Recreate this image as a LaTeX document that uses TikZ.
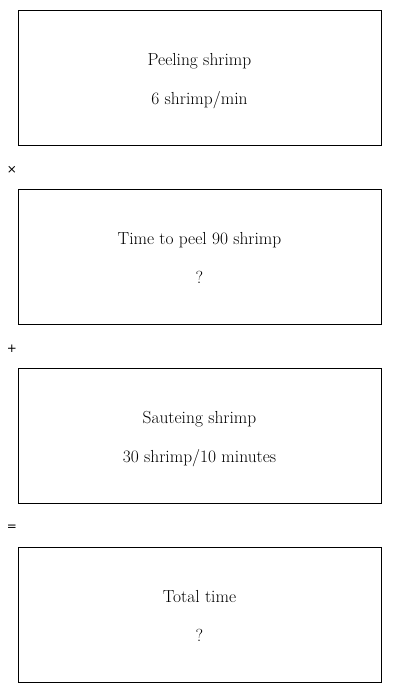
\documentclass[tikz,border=0pt]{standalone}
\usepackage{fontspec}
\newfontfamily\opfont{DejaVu Sans}
\begin{document}
\begin{tikzpicture}[x=1bp,y=-1bp,
    stepbox/.style={draw, line width=0.8bp, rectangle, minimum width=363bp, minimum height=135bp},
    steptext/.style={anchor=base, inner sep=0pt, font=\fontsize{17.5}{21}\selectfont},
    opsign/.style={font=\opfont\fontsize{12}{14}\selectfont}]
  \useasboundingbox (0,0) rectangle (400,693);

  \node[stepbox] (peel) at (199.5,77.5) {};
  \node[stepbox] (time) at (199.5,256.5) {};
  \node[stepbox] (saute) at (199.5,435.5) {};
  \node[stepbox] (total) at (199.5,614.5) {};

  % two lines of text in each box
  \node[steptext] (peel-name) at ([yshift=-56.3bp]peel.north) {Peeling shrimp};
  \node[steptext] (peel-rate) at ([yshift=-95bp]peel.north) {6 shrimp/min};
  \node[steptext] (time-name) at ([yshift=-56.3bp]time.north) {Time to peel 90 shrimp};
  \node[steptext] (time-rate) at ([yshift=-95bp]time.north) {?};
  \node[steptext] (saute-name) at ([yshift=-56.3bp]saute.north) {Sauteing shrimp};
  \node[steptext] (saute-rate) at ([yshift=-95bp]saute.north) {30 shrimp/10 minutes};
  \node[steptext] (total-name) at ([yshift=-56.3bp]total.north) {Total time};
  \node[steptext] (total-rate) at ([yshift=-95bp]total.north) {?};

  \node[opsign] (times) at (12,170) {×};
  \node[opsign] (plus) at (12,349) {+};
  \node[opsign] (equals) at (12,528) {=};
\end{tikzpicture}
\end{document}
